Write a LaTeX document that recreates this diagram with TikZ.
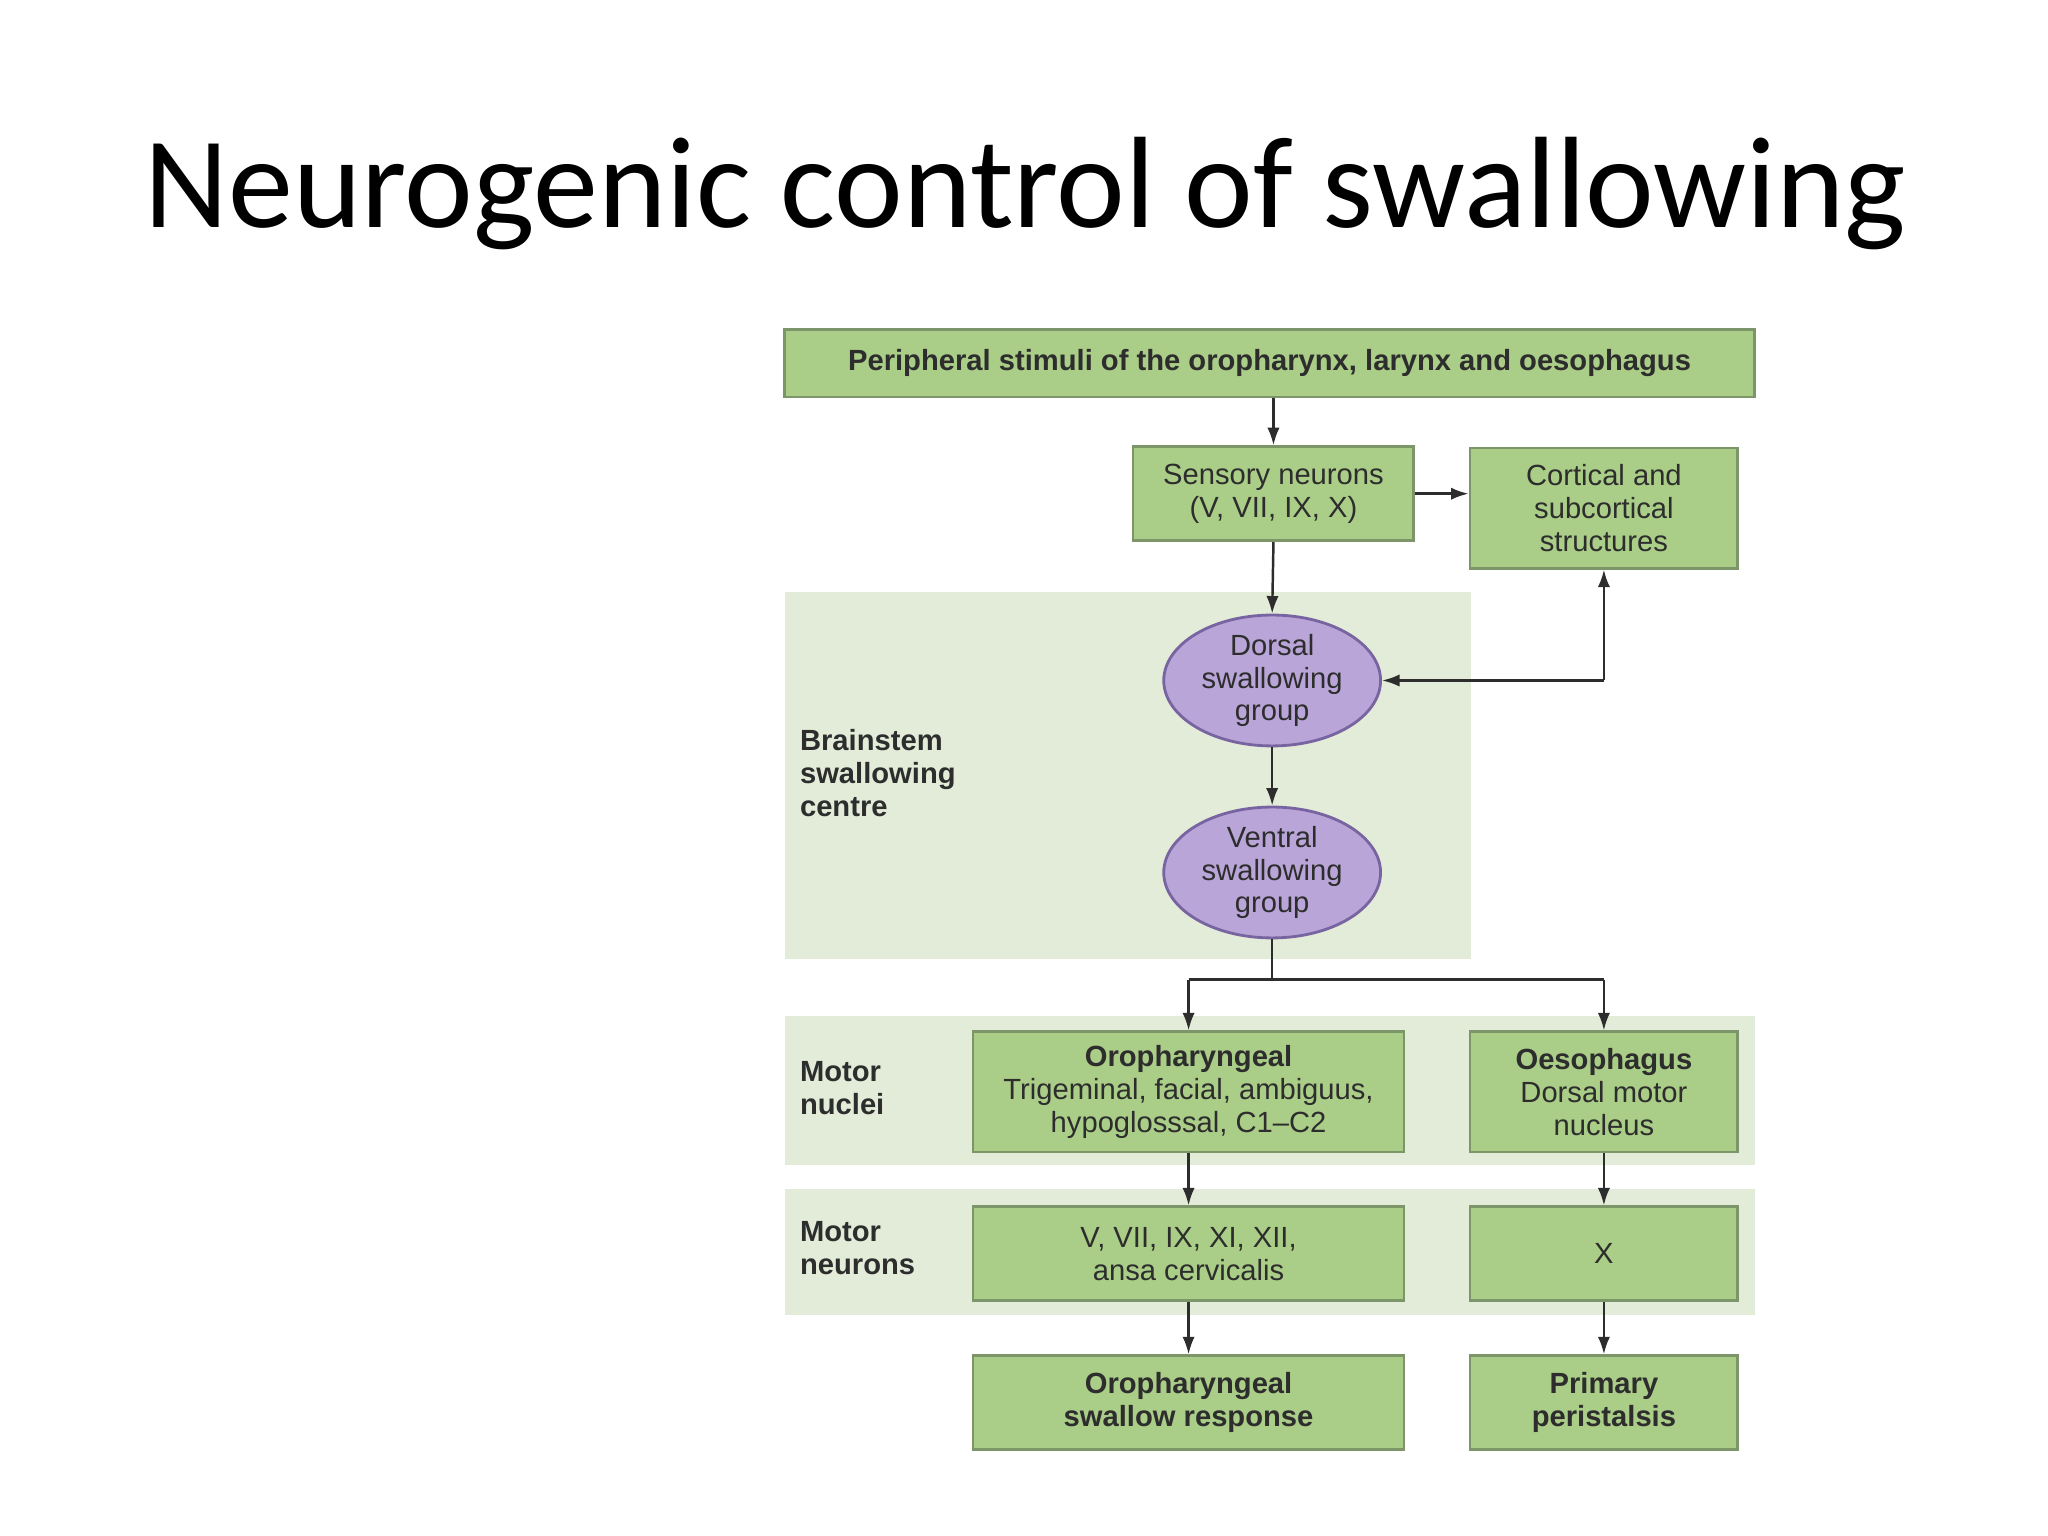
\documentclass[tikz,border=0pt]{standalone}
\usepackage{fontspec}
\setmainfont{Liberation Sans}
\newfontfamily\titlefont{Carlito}
\usetikzlibrary{shapes.geometric,arrows.meta}
\definecolor{boxg}{RGB}{170,205,135}
\definecolor{boxd}{RGB}{125,150,105}
\definecolor{bandg}{RGB}{226,236,216}
\definecolor{ellf}{RGB}{185,165,215}
\definecolor{elld}{RGB}{120,100,160}
\definecolor{txt}{RGB}{45,45,45}
\def\u{0.01306cm}
\begin{document}
\begin{tikzpicture}[x=0.01306cm,y=-0.01306cm,
  gbox/.style={draw=boxd,line width=0.8pt,fill=boxg,inner sep=0pt,text=txt,align=center,font=\fontsize{8.3}{9.3}\selectfont},
  ell/.style={ellipse,draw=elld,line width=0.8pt,fill=ellf,inner sep=0pt,text=txt,align=center,font=\fontsize{8.3}{9.3}\selectfont},
  lab/.style={text=txt,align=left,anchor=north west,font=\bfseries\fontsize{8.3}{9.3}\selectfont,inner sep=0pt},
  arr/.style={-{Latex[length=5pt,width=3.5pt]},line width=0.7pt,draw=txt}]
\useasboundingbox (0,0) rectangle (1568,1176);
\node (title) at (785,148) {\titlefont\fontsize{37}{44}\selectfont Neurogenic control of swallowing};
% backgrounds
\fill[bandg] (601,453) rectangle (1126,734);
\fill[bandg] (601,778) rectangle (1344,892);
\fill[bandg] (601,910) rectangle (1344,1007);
% boxes
\node[gbox,minimum width=743*\u,minimum height=52*\u] (top) at (972,278) {\bfseries Peripheral stimuli of the oropharynx, larynx and oesophagus};
\node[gbox,minimum width=215*\u,minimum height=72*\u] (sens) at (975,378) {Sensory neurons\\(V, VII, IX, X)};
\node[gbox,minimum width=205*\u,minimum height=92*\u] (cort) at (1228,389) {Cortical and\\subcortical\\structures};
\node[ell,minimum width=166*\u,minimum height=100*\u] (dors) at (974,521) {Dorsal\\swallowing\\group};
\node[ell,minimum width=166*\u,minimum height=100*\u] (vent) at (974,668) {Ventral\\swallowing\\group};
\node[gbox,minimum width=330*\u,minimum height=92*\u] (oro) at (910,836) {\textbf{Oropharyngeal}\\Trigeminal, facial, ambiguus,\\hypoglosssal, C1--C2};
\node[gbox,minimum width=205*\u,minimum height=92*\u] (oes) at (1228,836) {\textbf{Oesophagus}\\Dorsal motor\\nucleus};
\node[gbox,minimum width=330*\u,minimum height=72*\u] (mn1) at (910,960) {V, VII, IX, XI, XII,\\ansa cervicalis};
\node[gbox,minimum width=205*\u,minimum height=72*\u] (mn2) at (1228,960) {X};
\node[gbox,minimum width=330*\u,minimum height=72*\u] (out1) at (910,1074) {\bfseries Oropharyngeal\\\bfseries swallow response};
\node[gbox,minimum width=205*\u,minimum height=72*\u] (out2) at (1228,1074) {\bfseries Primary\\\bfseries peristalsis};
% labels
\node[lab] (bl) at (612,558) {Brainstem\\swallowing\\centre};
\node[lab] (mnl) at (612,812) {Motor\\nuclei};
\node[lab] (mnr) at (612,935) {Motor\\neurons};
% arrows
\draw[arr] (top.south -| sens.north) -- (sens.north);
\draw[arr] (sens.east) -- (cort.west |- sens.east);
\draw[arr] (sens.south) -- (dors.north);
\coordinate (cr) at (1228,521);
\draw[arr] (cr) -- (cort.south);
\draw[arr] (cr) -- (dors.east);
\draw[arr] (dors.south) -- (vent.north);
\coordinate (split) at (974,750);
\coordinate (sl) at (910,750);
\coordinate (sr) at (1228,750);
\draw[line width=0.7pt,draw=txt] (vent.south) -- (split);
\draw[line width=0.7pt,draw=txt] (sl) -- (sr);
\draw[arr] (sl) -- (oro.north);
\draw[arr] (sr) -- (oes.north);
\draw[arr] (oro.south) -- (mn1.north);
\draw[arr] (oes.south) -- (mn2.north);
\draw[arr] (mn1.south) -- (out1.north);
\draw[arr] (mn2.south) -- (out2.north);
\end{tikzpicture}
\end{document}
